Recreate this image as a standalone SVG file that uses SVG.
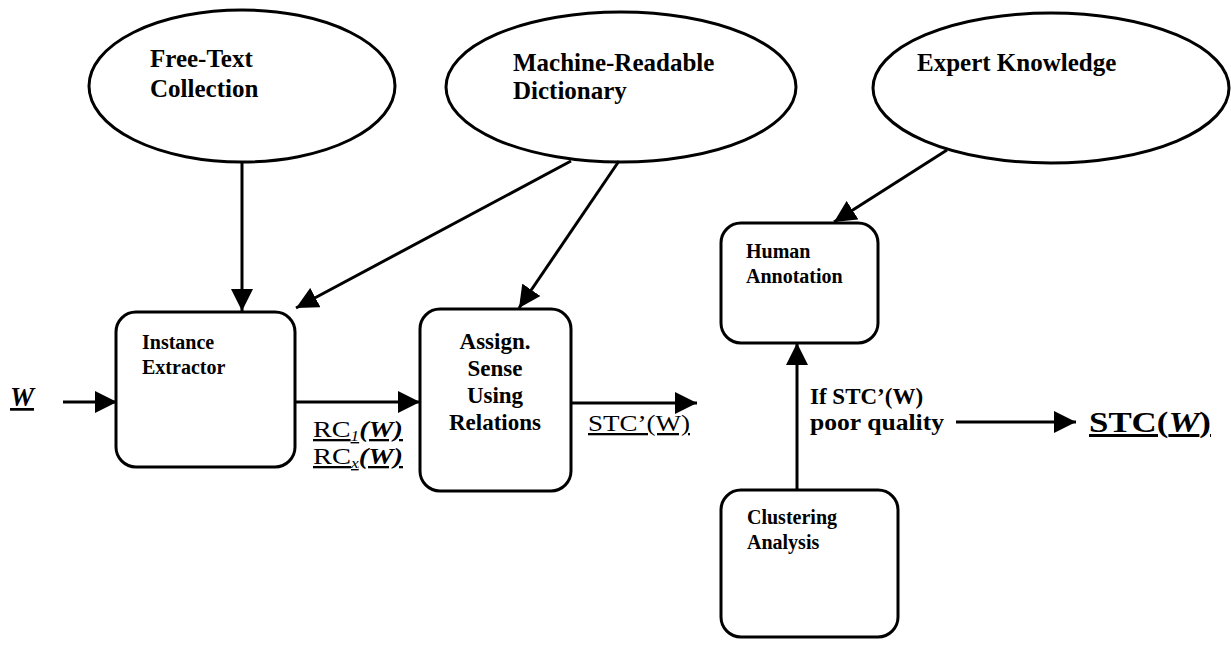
<svg xmlns="http://www.w3.org/2000/svg" width="1231" height="645" viewBox="0 0 1231 645">
<style>
  .shape{fill:#fff;stroke:#000;stroke-width:3}
  .conn{stroke:#000;stroke-width:3;fill:none}
  text{font-family:"Liberation Serif","Times New Roman",serif;fill:#000;font-weight:bold}
  .big{font-size:25px}
  .small{font-size:20px}
  .mid{font-size:23px}
  .ul{text-decoration:underline}
  .reg{font-weight:normal}
</style>
<defs>
  <marker id="ah" markerUnits="userSpaceOnUse" markerWidth="22" markerHeight="22" viewBox="0 0 20 20" refX="20" refY="10" orient="auto">
    <path d="M0,0 L20,10 L0,20 Z" fill="#000"/>
  </marker>
</defs>
<rect width="1231" height="645" fill="#fff"/>

<g id="node-freetext">
  <ellipse class="shape" cx="242" cy="86" rx="153" ry="76"/>
  <text class="big" x="150" y="67">Free-Text</text>
  <text class="big" x="150" y="97">Collection</text>
</g>
<g id="node-mrd">
  <ellipse class="shape" cx="621" cy="87" rx="175" ry="75"/>
  <text class="big" x="513" y="71">Machine-Readable</text>
  <text class="big" x="513" y="99">Dictionary</text>
</g>
<g id="node-expert">
  <ellipse class="shape" cx="1051" cy="88" rx="178" ry="75"/>
  <text class="big" x="917" y="71">Expert Knowledge</text>
</g>
<g id="node-instance">
  <rect class="shape" x="116" y="312" width="179" height="155" rx="20"/>
  <text class="small" x="142" y="349">Instance</text>
  <text class="small" x="142" y="374">Extractor</text>
</g>
<g id="node-assign">
  <rect class="shape" x="420" y="309" width="151" height="182" rx="20"/>
  <text class="mid" x="495" y="349" text-anchor="middle">Assign.</text>
  <text class="mid" x="495" y="376" text-anchor="middle">Sense</text>
  <text class="mid" x="495" y="403" text-anchor="middle">Using</text>
  <text class="mid" x="495" y="430" text-anchor="middle">Relations</text>
</g>
<g id="node-human">
  <rect class="shape" x="721" y="223" width="157" height="120" rx="20"/>
  <text class="small" x="746" y="258">Human</text>
  <text class="small" x="746" y="283">Annotation</text>
</g>
<g id="node-clustering">
  <rect class="shape" x="721" y="490" width="177" height="147" rx="20"/>
  <text class="small" x="747" y="524">Clustering</text>
  <text class="small" x="747" y="549">Analysis</text>
</g>

<g id="connectors">
  <line class="conn" x1="242" y1="162" x2="242" y2="311" marker-end="url(#ah)"/>
  <line class="conn" x1="571" y1="161" x2="296" y2="308" marker-end="url(#ah)"/>
  <line class="conn" x1="619" y1="161" x2="519" y2="308" marker-end="url(#ah)"/>
  <line class="conn" x1="947" y1="150" x2="834" y2="222" marker-end="url(#ah)"/>
  <line class="conn" x1="63" y1="402" x2="117" y2="402" marker-end="url(#ah)"/>
  <line class="conn" x1="295" y1="402" x2="420" y2="402" marker-end="url(#ah)"/>
  <line class="conn" x1="571" y1="403" x2="697" y2="403" marker-end="url(#ah)"/>
  <line class="conn" x1="797" y1="490" x2="797" y2="343" marker-end="url(#ah)"/>
  <line class="conn" x1="956" y1="422" x2="1076" y2="422" marker-end="url(#ah)"/>
</g>

<g id="labels">
  <text class="ul" x="10" y="406" font-size="27" font-style="italic">W</text>
  <text class="ul" x="313" y="437" font-size="23" textLength="90" lengthAdjust="spacingAndGlyphs"><tspan font-weight="normal">RC</tspan><tspan font-size="14" font-style="italic" font-weight="normal" dy="4">1</tspan><tspan font-style="italic" dy="-4">(W)</tspan></text>
  <text class="ul" x="313" y="464" font-size="23" textLength="90" lengthAdjust="spacingAndGlyphs"><tspan font-weight="normal">RC</tspan><tspan font-size="14" font-style="italic" font-weight="normal" dy="4">x</tspan><tspan font-style="italic" dy="-4">(W)</tspan></text>
  <text class="ul reg" x="588" y="431" font-size="23" textLength="102" lengthAdjust="spacingAndGlyphs">STC’(W)</text>
  <text x="810" y="404" font-size="23">If STC’(W)</text>
  <text x="810" y="430" font-size="23" textLength="134" lengthAdjust="spacingAndGlyphs">poor quality</text>
  <text class="ul" x="1089" y="432" font-size="30" textLength="122" lengthAdjust="spacingAndGlyphs">STC(<tspan font-style="italic">W</tspan>)</text>
</g>
</svg>
